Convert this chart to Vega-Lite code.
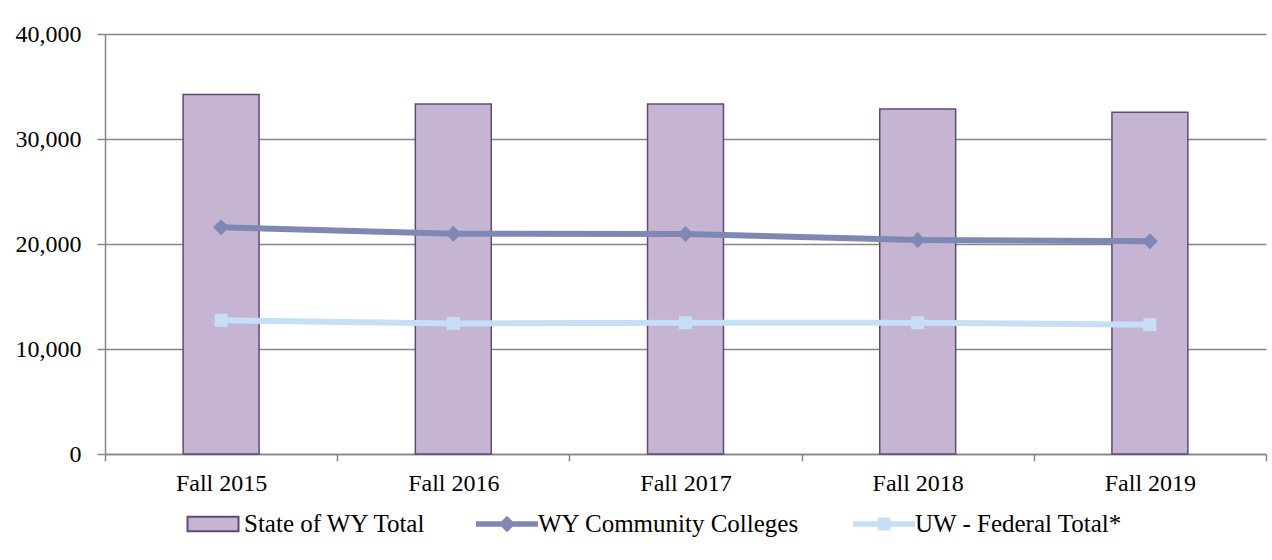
{
  "$schema": "https://vega.github.io/schema/vega-lite/v6.json",
  "width": 1161,
  "height": 420,
  "autosize": {"type": "none"},
  "padding": {"left": 105, "top": 34, "right": 6, "bottom": 106},
  "background": "white",
  "data": {
    "values": [
      {"year": "Fall 2015", "series": "State of WY Total", "value": 34250},
      {"year": "Fall 2016", "series": "State of WY Total", "value": 33330},
      {"year": "Fall 2017", "series": "State of WY Total", "value": 33330},
      {"year": "Fall 2018", "series": "State of WY Total", "value": 32860},
      {"year": "Fall 2019", "series": "State of WY Total", "value": 32540},
      {"year": "Fall 2015", "series": "WY Community Colleges", "value": 21590},
      {"year": "Fall 2016", "series": "WY Community Colleges", "value": 20980},
      {"year": "Fall 2017", "series": "WY Community Colleges", "value": 20950},
      {"year": "Fall 2018", "series": "WY Community Colleges", "value": 20380},
      {"year": "Fall 2019", "series": "WY Community Colleges", "value": 20260},
      {"year": "Fall 2015", "series": "UW - Federal Total*", "value": 12730},
      {"year": "Fall 2016", "series": "UW - Federal Total*", "value": 12440},
      {"year": "Fall 2017", "series": "UW - Federal Total*", "value": 12500},
      {"year": "Fall 2018", "series": "UW - Federal Total*", "value": 12500},
      {"year": "Fall 2019", "series": "UW - Federal Total*", "value": 12320}
    ]
  },
  "encoding": {
    "x": {
      "field": "year",
      "type": "nominal",
      "sort": null,
      "scale": {"paddingInner": 0, "paddingOuter": 0},
      "axis": {
        "title": null,
        "labelAngle": 0,
        "tickBand": "extent",
        "tickSize": 7,
        "labelPadding": 10,
        "domainColor": "#868686",
        "domainWidth": 1.5,
        "tickColor": "#868686",
        "tickWidth": 1.5,
        "grid": false
      }
    },
    "y": {
      "field": "value",
      "type": "quantitative",
      "scale": {"domain": [0, 40000], "nice": false},
      "axis": {
        "title": null,
        "values": [0, 10000, 20000, 30000, 40000],
        "format": ",.0f",
        "tickSize": 8,
        "labelPadding": 16,
        "domainColor": "#868686",
        "domainWidth": 1.5,
        "tickColor": "#868686",
        "tickWidth": 1.5,
        "grid": true,
        "gridColor": "#868686",
        "gridWidth": 1.5
      }
    }
  },
  "layer": [
    {
      "transform": [{"filter": "datum.series === 'State of WY Total'"}],
      "mark": {"type": "bar", "width": {"band": 0.327}, "stroke": "#604a7b", "strokeWidth": 1.5, "opacity": 1},
      "encoding": {
        "fill": {
          "field": "series",
          "type": "nominal",
          "scale": {"domain": ["State of WY Total"], "range": ["#c5b5d3"]},
          "legend": {
            "title": null,
            "orient": "none",
            "legendX": 77,
            "legendY": 459,
            "padding": 0,
            "symbolType": "M-0.85,-0.24H0.85V0.24H-0.85Z",
            "symbolSize": 3600,
            "symbolStrokeWidth": 2,
            "symbolStrokeColor": "#604a7b",
            "labelOffset": 0,
            "labelFont": "Liberation Serif",
            "labelFontSize": 25,
            "labelColor": "#000000",
            "labelLimit": 0,
            "encode": {
              "symbols": {
                "update": {
                  "shape": {"signal": "'M-0.85,-0.24H0.85V0.24H-0.85Z'"},
                  "fill": {"value": "#c5b5d3"},
                  "stroke": {"value": "#604a7b"},
                  "strokeWidth": {"value": 2},
                  "opacity": {"value": 1},
                  "size": {"value": 3600}
                }
              }
            }
          }
        }
      }
    },
    {
      "transform": [{"filter": "datum.series !== 'State of WY Total'"}],
      "encoding": {
        "color": {
          "field": "series",
          "type": "nominal",
          "scale": {
            "domain": ["WY Community Colleges", "UW - Federal Total*"],
            "range": ["#7f88b2", "#c6dff6"]
          },
          "legend": {
            "title": null,
            "orient": "none",
            "direction": "horizontal",
            "legendX": 371,
            "legendY": 459,
            "padding": 0,
            "symbolSize": 3600,
            "labelOffset": 0,
            "columnPadding": 50,
            "labelFont": "Liberation Serif",
            "labelFontSize": 25,
            "labelColor": "#000000",
            "labelLimit": 0,
            "encode": {
              "symbols": {
                "update": {
                  "shape": {"signal": "datum.value === 'WY Community Colleges' ? 'M-1,-0.06H1V0.06H-1Z M0,-0.23L0.23,0L0,0.23L-0.23,0Z' : 'M-1,-0.06H1V0.06H-1Z M-0.18,-0.18H0.18V0.18H-0.18Z'"},
                  "fill": {"signal": "datum.value === 'WY Community Colleges' ? '#7f88b2' : '#c6dff6'"},
                  "stroke": {"signal": "datum.value === 'WY Community Colleges' ? '#7f88b2' : '#c6dff6'"},
                  "strokeWidth": {"value": 2},
                  "opacity": {"value": 1},
                  "fillOpacity": {"value": 1},
                  "size": {"value": 3600}
                }
              }
            }
          }
        }
      },
      "layer": [
        {
          "transform": [{"filter": "datum.series === 'WY Community Colleges'"}],
          "mark": {"type": "line", "strokeWidth": 6, "point": {"shape": "diamond", "size": 256, "filled": true, "opacity": 1}}
        },
        {
          "transform": [{"filter": "datum.series === 'UW - Federal Total*'"}],
          "mark": {"type": "line", "strokeWidth": 6, "point": {"shape": "square", "size": 169, "filled": true, "opacity": 1}}
        }
      ]
    }
  ],
  "config": {
    "view": {"stroke": null},
    "font": "Liberation Serif",
    "axis": {"labelFont": "Liberation Serif", "labelFontSize": 24, "labelColor": "#000000"},
    "legend": {"labelFont": "Liberation Serif", "labelFontSize": 25, "labelColor": "#000000"}
  }
}
